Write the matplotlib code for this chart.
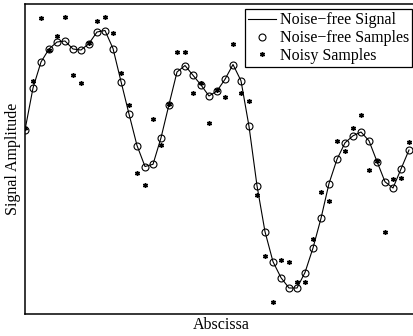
#!/usr/bin/env python3
"""Noise-free signal, its samples, and the noisy samples."""

import matplotlib

matplotlib.use("Agg")
import matplotlib.pyplot as plt  # noqa: E402
import numpy as np  # noqa: E402

plt.rcParams["font.family"] = ["Liberation Serif", "DejaVu Serif"]

# sample index along the abscissa
sample_idx = np.arange(49)

# noise-free samples
clean = [
    0.00, 0.42, 0.68, 0.81, 0.88, 0.89, 0.81, 0.80, 0.865, 0.98,
    0.995, 0.815, 0.485, 0.16, -0.155, -0.365, -0.343, -0.078, 0.255, 0.58,
    0.645, 0.547, 0.45, 0.34, 0.39, 0.507, 0.655, 0.492, 0.037, -0.557,
    -1.017, -1.317, -1.477, -1.58, -1.58, -1.425, -1.18, -0.883, -0.535, -0.293,
    -0.128, -0.058, -0.02, -0.108, -0.315, -0.518, -0.58, -0.39, -0.20,
]

# noisy samples
noisy = [
    0.02, 0.487, 1.123, 0.80, 0.94, 1.133, 0.547, 0.473, 0.87, 1.093,
    1.133, 0.973, 0.567, 0.253, -0.427, -0.547, 0.107, -0.15, 0.26, 0.777,
    0.777, 0.367, 0.467, 0.067, 0.40, 0.327, 0.857, 0.367, 0.29, -0.645,
    -1.26, -1.717, -1.303, -1.317, -1.517, -1.52, -1.09, -0.617, -0.71, -0.107,
    -0.213, 0.02, 0.15, -0.40, -0.31, -1.02, -0.49, -0.477, -0.12,
]

W, H = 413, 336
fig = plt.figure(figsize=(W / 100, H / 100), dpi=100)
ax = fig.add_axes([25 / W, (H - 314) / H, 392 / W, 309.7 / H])

ax.plot(sample_idx, clean, "-", color="black", lw=0.8, label="Noise\u2212free Signal")
ax.plot(sample_idx, clean, "o", ls="none", ms=5, mfc="none", mec="black", mew=0.8,
        label="Noise\u2212free Samples")
ax.plot(sample_idx, noisy, marker=(6, 2, 0), ls="none", ms=3.5, color="black", mew=1.0,
        label="Noisy Samples")

ax.set_xlim(0, 49)
ax.set_ylim(-1.84, 1.257)
ax.set_xticks([])
ax.set_yticks([])
for s in ax.spines.values():
    s.set_linewidth(1.1)
ax.set_xlabel("Abscissa", fontsize=11.5, labelpad=2)
ax.set_ylabel("Signal Amplitude", fontsize=11.5, labelpad=3)

leg = ax.legend(loc="upper right", bbox_to_anchor=(412 / W, (H - 9.3) / H),
                bbox_transform=fig.transFigure, fontsize=11.5, frameon=True,
                fancybox=False, framealpha=1, edgecolor="black", borderpad=0.2,
                handlelength=1.75, handletextpad=0.2, labelspacing=0.1,
                borderaxespad=0)
leg.get_frame().set_linewidth(0.9)

fig.savefig("out.png", dpi=100)
